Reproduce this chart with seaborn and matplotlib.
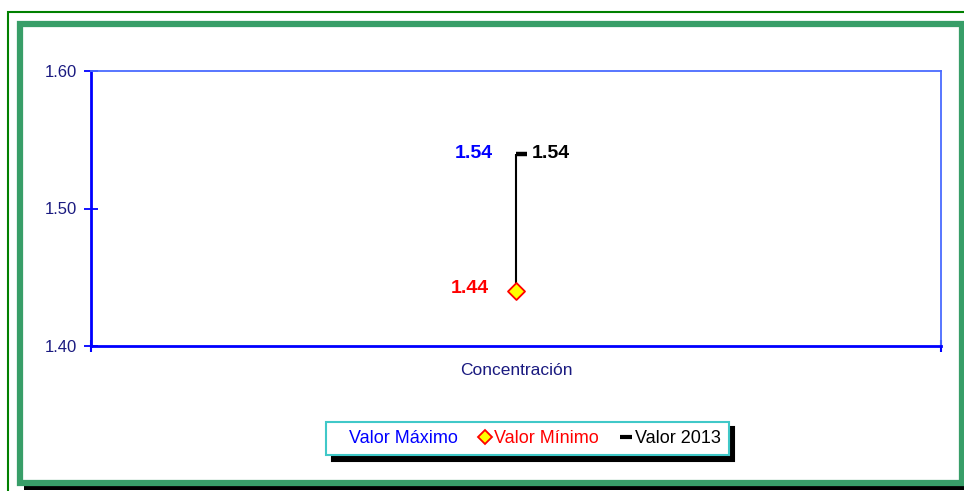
import numpy as np
import pandas as pd
import matplotlib
matplotlib.use("Agg")
import matplotlib.pyplot as plt
import seaborn as sns
from matplotlib.patches import Rectangle
from matplotlib.lines import Line2D

# =========================
# DATA
# =========================

categorias = ["Concentración"]
valor_maximo = [1.54]
valor_minimo = [1.44]
valor_2013 = [1.54]
y_ticks = [1.40, 1.50, 1.60]

df = pd.DataFrame({"cat": categorias, "max": valor_maximo,
                   "min": valor_minimo, "v2013": valor_2013})

# =========================
# STYLE
# =========================

sns.set_style("white")
plt.rcParams["font.family"] = ["Liberation Sans", "DejaVu Sans"]

W, H = 964, 491
fig = plt.figure(figsize=(W / 100, H / 100), dpi=100)
ax = fig.add_axes([91 / W, 1 - 346 / H, (941 - 91) / W, (346 - 71) / H])

# =========================
# FRAMES
# =========================

def px_rect(x0, y0, x1, y1, **kw):
    r = Rectangle((x0 / W, 1 - y1 / H), (x1 - x0) / W, (y1 - y0) / H,
                  transform=fig.transFigure, fill=False, **kw)
    fig.patches.append(r)

px_rect(8, 12, 975, 500, edgecolor="#008000", linewidth=1.5)
# shadow under inner frame
fig.patches.append(Rectangle((24 / W, 1 - 490 / H), (970 - 24) / W, 6 / H,
                             transform=fig.transFigure, facecolor="black",
                             edgecolor="none", zorder=0))
px_rect(20, 23.5, 961.5, 482.5, edgecolor="#389E68", linewidth=4.5)

# =========================
# PLOT
# =========================

xpos = np.arange(len(categorias))

ax.vlines(xpos, df["min"], df["max"], color="black", linewidth=1.5, zorder=2)

sns.scatterplot(x=xpos, y=df["min"], marker="D", s=75, color="#FFFF00",
                edgecolor="#FF0000", linewidth=1.3, ax=ax, zorder=4,
                legend=False)

ax.plot(xpos, df["v2013"], linestyle="none", marker=1, markersize=8,
        markeredgewidth=3.2, color="black", zorder=3)

for i in range(len(categorias)):
    ax.text(xpos[i] - 0.027, df["max"][i], f"{df['max'][i]:.2f}", color="#0000FF",
            fontsize=14, fontweight="bold", ha="right", va="center")
    ax.text(xpos[i] - 0.032, df["min"][i] + 0.002, f"{df['min'][i]:.2f}", color="#FF0000",
            fontsize=14, fontweight="bold", ha="right", va="center")
    ax.text(xpos[i] + 0.018, df["v2013"][i], f"{df['v2013'][i]:.2f}", color="black",
            fontsize=14, fontweight="bold", ha="left", va="center")

# =========================
# AXES
# =========================

ax.set_xlim(-0.5, 0.5)
ax.set_ylim(1.40, 1.60)
ax.set_yticks(y_ticks)
ax.set_yticklabels([f"{v:.2f}" for v in y_ticks])
ax.set_ylabel("")
ax.set_xticks(xpos)
ax.set_xticklabels([])
ax.set_xticks([-0.5, 0.5], minor=True)
ax.set_xlabel(categorias[0], fontsize=12.5, color="#1A1A80", labelpad=4)

ax.tick_params(axis="y", left=True, direction="inout", length=10, width=1.3,
               color="#0000FF", labelcolor="#1A1A80", labelsize=12, pad=5)
ax.tick_params(axis="x", which="major", bottom=True, length=0, pad=0)
ax.tick_params(axis="x", which="minor", bottom=True, direction="inout", length=9,
               width=1.5, color="#0000FF")

for side in ["left", "bottom"]:
    ax.spines[side].set_color("#0000FF")
    ax.spines[side].set_linewidth(2)
for side in ["top", "right"]:
    ax.spines[side].set_color("#4A6BFF")
    ax.spines[side].set_linewidth(1.3)

# =========================
# LEGEND
# =========================

handles = [
    Line2D([], [], linestyle="none", marker=None),
    Line2D([], [], linestyle="none", marker="D", markersize=7.5,
           markerfacecolor="#FFFF00", markeredgecolor="#FF0000", markeredgewidth=1.3),
    Line2D([], [], linestyle="none", marker="_", markersize=8,
           markeredgewidth=3, color="black"),
]
labels = ["Valor Máximo", "Valor Mínimo", "Valor 2013"]
leg = fig.legend(handles, labels, loc="center", bbox_to_anchor=(527.5 / W, 1 - 438.5 / H),
                 ncol=3, frameon=True, fancybox=False, fontsize=13,
                 handlelength=0.6, handletextpad=0.2, columnspacing=1.2,
                 borderpad=0.45, edgecolor="#40C8C8",
                 shadow={"ox": 4, "oy": -4, "color": "black", "alpha": 1})
leg.get_frame().set_linewidth(1.5)
for t, c in zip(leg.get_texts(), ["#0000FF", "#FF0000", "black"]):
    t.set_color(c)

fig.savefig("out.png", dpi=100)
